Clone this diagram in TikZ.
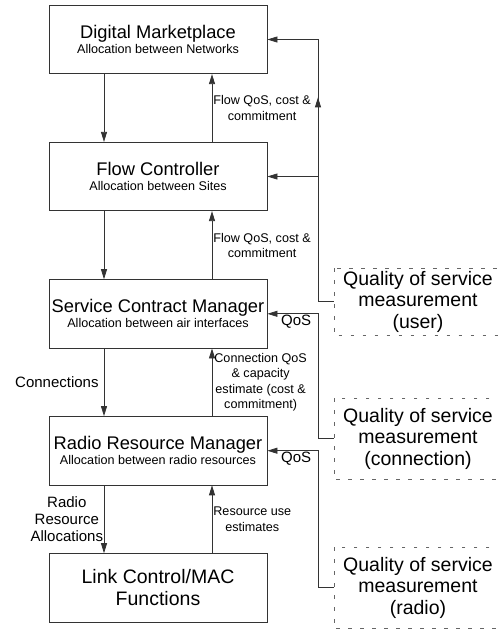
\documentclass[tikz,border=0pt]{standalone}
\usepackage{fontspec}
\setmainfont{Liberation Sans}
\usetikzlibrary{arrows.meta,decorations.markings}

\tikzset{
  layer/.style={draw=black!80, line width=0.8pt, minimum width=218pt, minimum height=68.4pt,
    align=center, inner sep=0pt, font=\fontsize{12.6}{15}\selectfont},
  qosbox/.style={minimum width=168pt, align=center, inner sep=0pt, font=\fontsize{19.5}{21.5}\selectfont},
  qosedge/.style={draw=black!60, line width=0.6pt, dash pattern=on 3.5pt off 8.5pt},
  arr/.style={draw=black!80, line width=0.8pt, -{Triangle[length=10pt,width=6pt]}},
  lbl/.style={font=\fontsize{12.6}{15.3}\selectfont, align=center, inner sep=1pt},
  biglbl/.style={font=\fontsize{15}{17}\selectfont, align=center, inner sep=1pt},
}
\newcommand{\ttl}[1]{{\fontsize{18.3}{15}\selectfont #1}}

\begin{document}
\begin{tikzpicture}[x=1pt,y=-1pt]
  \useasboundingbox (0,0) rectangle (498,630);
  % control layers
  \node[layer] (dm) at (158,39.5) {\ttl{Digital Marketplace}\\Allocation between Networks};
  \node[layer] (fc) at (158,176.5) {\ttl{Flow Controller}\\Allocation between Sites};
  \node[layer] (sc) at (158,313.8) {\ttl{Service Contract Manager}\\Allocation between air interfaces};
  \node[layer] (rr) at (158,450.7) {\ttl{Radio Resource Manager}\\Allocation between radio resources};
  \node[layer, font=\fontsize{19.5}{22.3}\selectfont] (lc) at (158,587.8) {Link Control/MAC\\Functions};
  % measurements (boxes run off the right edge)
  \node[qosbox, minimum height=66.7pt] (qu) at (418,301.7) {Quality of service\\measurement\\(user)};
  \node[qosbox, minimum height=81pt] (qc) at (418,438.8) {Quality of service\\measurement\\(connection)};
  \node[qosbox, minimum height=81pt] (qr) at (418,587.8) {Quality of service\\measurement\\(radio)};
  \foreach \q in {qu,qc,qr}
    \draw[qosedge] (\q.north west) rectangle ([xshift=20pt]\q.south east);
  \coordinate (bus) at (318,0);

  \draw[arr] ([xshift=-54pt]dm.south) -- ([xshift=-54pt]fc.north);
  \draw[arr] ([xshift=54pt]fc.north) -- node[lbl,right] {Flow QoS, cost \&\\commitment} ([xshift=54pt]dm.south);
  \draw[arr] ([xshift=-54pt]fc.south) -- ([xshift=-54pt]sc.north);
  \draw[arr] ([xshift=54pt]sc.north) -- node[lbl,right] {Flow QoS, cost \&\\commitment} ([xshift=54pt]fc.south);
  \draw[arr] ([xshift=-54pt]sc.south) -- node[biglbl,left,inner sep=5pt] {Connections} ([xshift=-54pt]rr.north);
  \draw[arr] ([xshift=54pt]rr.north) -- node[lbl,right,inner sep=2pt] {Connection QoS\\\& capacity\\estimate (cost \&\\commitment)} ([xshift=54pt]sc.south);
  \draw[arr] ([xshift=-54pt]rr.south) -- node[biglbl,left,inner sep=0.5pt] {Radio\\Resource\\Allocations} ([xshift=-54pt]lc.north);
  \draw[arr] ([xshift=54pt]lc.north) -- node[lbl,right] {Resource use\\estimates} ([xshift=54pt]rr.south);

  % feedback
  \draw[arr, postaction={decorate}, decoration={markings,
      mark=at position 0.67 with {\arrow{Triangle[length=10pt,width=6pt]}}}]
    (qu.west) -| (bus |- dm.east) -- (dm.east);
  \draw[arr] (bus |- fc.east) -- (fc.east);
  \draw[arr] (qc.west) -| (bus |- sc.east) -- node[biglbl,below,pos=0.43] {QoS} (sc.east);
  \draw[arr] (qr.west) -| (bus |- rr.east) -- node[biglbl,below,pos=0.43] {QoS} (rr.east);
\end{tikzpicture}
\end{document}
